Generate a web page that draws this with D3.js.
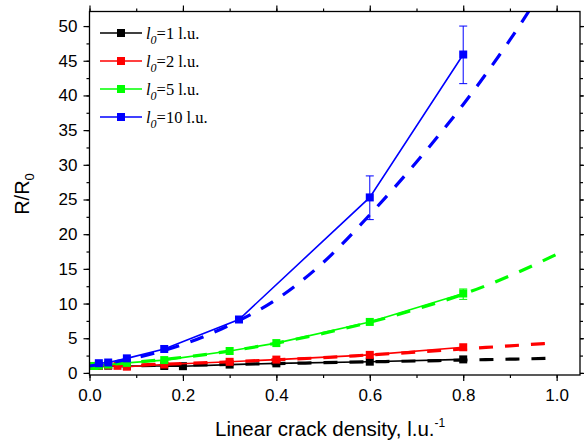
<!DOCTYPE html>
<html>
<head>
<meta charset="utf-8">
<script src="https://cdn.jsdelivr.net/npm/d3@7"></script>
<style>
  body { margin: 0; background: #fff; }
  svg { display: block; }
</style>
</head>
<body>
<div id="chart"></div>
<script>
// Measured points (crack density, R/R0)
const blackX = [0.01, 0.02, 0.04, 0.08, 0.16, 0.2, 0.3, 0.4, 0.6, 0.8];
const blackY = [1.0, 1.0, 1.05, 1.0, 1.0, 0.97, 1.2, 1.38, 1.62, 1.95];
const redX = [0.01, 0.02, 0.04, 0.06, 0.08, 0.16, 0.3, 0.4, 0.6, 0.8];
const redY = [1.0, 1.0, 1.1, 1.02, 0.9, 1.22, 1.6, 1.92, 2.6, 3.7];
const greenX = [0.01, 0.02, 0.04, 0.08, 0.16, 0.3, 0.4, 0.6, 0.8];
const greenY = [1.0, 1.05, 1.2, 1.45, 1.85, 3.16, 4.3, 7.35, 11.45];
const blueX = [0.02, 0.04, 0.08, 0.16, 0.32, 0.6, 0.8];
const blueY = [1.4, 1.5, 2.1, 3.45, 7.7, 25.3, 45.9];

// Error bars
const errBars = [
    { series: "green", x: 0.8, lo: 10.6, hi: 12.1 },
    { series: "blue", x: 0.6, lo: 22.1, hi: 28.4 },
    { series: "blue", x: 0.8, lo: 41.7, hi: 50.0 }
];

// Dashed model curves
const fitX = [0, 0.1, 0.2, 0.3, 0.4, 0.5, 0.6, 0.7, 0.8, 0.9, 1.0];
const fitBlack = [1.0, 1.05, 1.12, 1.22, 1.35, 1.47, 1.6, 1.72, 1.85, 1.98, 2.12];
const fitRed = [1.0, 1.15, 1.35, 1.6, 1.9, 2.2, 2.6, 3.0, 3.45, 3.9, 4.35];
const fitGreen = [1.0, 1.55, 2.25, 3.15, 4.3, 5.7, 7.3, 9.2, 11.35, 14.0, 17.1];
const fitBlue = [1.0, 2.2, 4.1, 6.9, 10.6, 15.9, 22.8, 30.4, 38.7, 48.0, 58.5];

const seriesNames = ["1", "2", "5", "10"];
const colors = ["#000000", "#ff0000", "#00ff00", "#0000ff"];

const xTicks = [0.0, 0.2, 0.4, 0.6, 0.8, 1.0];
const yTicks = [0, 5, 10, 15, 20, 25, 30, 35, 40, 45, 50];

const width = 584, height = 446;
const plotLeft = 89.5, plotRight = 580, plotTop = 11.5, plotBottom = 375;

const svg = d3.select("#chart").append("svg")
    .attr("width", width)
    .attr("height", height);

const x = d3.scaleLinear().domain([0, 1.05]).range([plotLeft, plotRight]);
const y = d3.scaleLinear().domain([-0.3, 52.1]).range([plotBottom, plotTop]);

svg.append("clipPath").attr("id", "plotClip")
    .append("rect")
    .attr("x", plotLeft).attr("y", plotTop)
    .attr("width", plotRight - plotLeft).attr("height", plotBottom - plotTop);

const series = [
    { xs: blackX, ys: blackY, fit: fitBlack },
    { xs: redX, ys: redY, fit: fitRed },
    { xs: greenX, ys: greenY, fit: fitGreen },
    { xs: blueX, ys: blueY, fit: fitBlue }
];
const colorByName = { black: colors[0], red: colors[1], green: colors[2], blue: colors[3] };

const plot = svg.append("g").attr("clip-path", "url(#plotClip)");

const solidLine = d3.line().x(d => x(d[0])).y(d => y(d[1]));
const fitLine = d3.line().curve(d3.curveMonotoneX).x(d => x(d[0])).y(d => y(d[1]));

series.forEach((s, i) => {
    const pts = s.xs.map((v, j) => [v, s.ys[j]]);

    plot.append("path")
        .datum(pts)
        .attr("fill", "none")
        .attr("stroke", colors[i])
        .attr("stroke-width", 1.6)
        .attr("d", solidLine);

    plot.append("path")
        .datum(fitX.map((v, j) => [v, s.fit[j]]))
        .attr("fill", "none")
        .attr("stroke", colors[i])
        .attr("stroke-width", 3.2)
        .attr("stroke-dasharray", "14,12")
        .attr("d", fitLine);

    plot.selectAll(null)
        .data(pts)
        .enter().append("rect")
        .attr("x", d => x(d[0]) - 4)
        .attr("y", d => y(d[1]) - 4)
        .attr("width", 8)
        .attr("height", 8)
        .attr("fill", colors[i]);
});

// error bars
errBars.forEach(e => {
    const c = colorByName[e.series];
    const g = plot.append("g").attr("stroke", c).attr("stroke-width", 1);
    g.append("line")
        .attr("x1", x(e.x)).attr("x2", x(e.x))
        .attr("y1", y(e.lo)).attr("y2", y(e.hi));
    [e.lo, e.hi].forEach(v => {
        g.append("line")
            .attr("x1", x(e.x) - 4).attr("x2", x(e.x) + 4)
            .attr("y1", y(v)).attr("y2", y(v));
    });
});

// frame
svg.append("rect")
    .attr("x", plotLeft).attr("y", plotTop)
    .attr("width", plotRight - plotLeft).attr("height", plotBottom - plotTop)
    .attr("fill", "none").attr("stroke", "#000").attr("stroke-width", 1.3);

const xMinor = d3.range(0, 1.05, 0.1);
const yMinor = d3.range(0, 52.1, 2.5);
const axisFont = "Liberation Sans, Arial, sans-serif";

// minor ticks on all sides
svg.append("g").attr("transform", `translate(0,${plotBottom})`)
    .call(d3.axisBottom(x).tickValues(xMinor).tickSize(3).tickFormat(""));
svg.append("g").attr("transform", `translate(0,${plotTop})`)
    .call(d3.axisTop(x).tickValues(xMinor).tickSize(3).tickFormat(""));
svg.append("g").attr("transform", `translate(${plotLeft},0)`)
    .call(d3.axisLeft(y).tickValues(yMinor).tickSize(3).tickFormat(""));
svg.append("g").attr("transform", `translate(${plotRight},0)`)
    .call(d3.axisRight(y).tickValues(yMinor).tickSize(3).tickFormat(""));

// major ticks with labels
svg.append("g").attr("transform", `translate(0,${plotBottom})`)
    .call(d3.axisBottom(x).tickValues(xTicks).tickSize(6).tickPadding(8).tickFormat(d3.format(".1f")))
    .call(g => g.selectAll("text").attr("font-size", 17).attr("font-family", axisFont).attr("fill", "#000"));
svg.append("g").attr("transform", `translate(0,${plotTop})`)
    .call(d3.axisTop(x).tickValues(xTicks).tickSize(6).tickFormat(""));
svg.append("g").attr("transform", `translate(${plotLeft},0)`)
    .call(d3.axisLeft(y).tickValues(yTicks).tickSize(6).tickPadding(6).tickFormat(d3.format("d")))
    .call(g => g.selectAll("text").attr("font-size", 17).attr("font-family", axisFont).attr("fill", "#000"));
svg.append("g").attr("transform", `translate(${plotRight},0)`)
    .call(d3.axisRight(y).tickValues(yTicks).tickSize(6).tickFormat(""));

svg.selectAll(".domain").attr("stroke", "none");
svg.selectAll(".tick line").attr("stroke", "#000").attr("stroke-width", 1.2);

// axis titles
const xTitle = svg.append("text")
    .attr("x", 215).attr("y", 436)
    .attr("font-family", axisFont).attr("font-size", 20.5);
xTitle.append("tspan").text("Linear crack density, l.u.");
xTitle.append("tspan").attr("dy", -9).attr("font-size", 12).text("-1");

const yTitle = svg.append("text")
    .attr("transform", "translate(29,194) rotate(-90)")
    .attr("text-anchor", "middle")
    .attr("font-family", axisFont).attr("font-size", 20);
yTitle.append("tspan").text("R/R");
yTitle.append("tspan").attr("dy", 5).attr("font-size", 13).text("0");

// legend
const legend = svg.append("g");
seriesNames.forEach((name, i) => {
    const ly = 33 + i * 28;
    legend.append("line")
        .attr("x1", 100).attr("x2", 142)
        .attr("y1", ly).attr("y2", ly)
        .attr("stroke", colors[i]).attr("stroke-width", 1.6);
    legend.append("rect")
        .attr("x", 117).attr("y", ly - 4)
        .attr("width", 8).attr("height", 8)
        .attr("fill", colors[i]);
    const t = legend.append("text")
        .attr("x", 146).attr("y", ly + 6)
        .attr("font-family", "Liberation Serif, Times New Roman, serif")
        .attr("font-size", 16.5);
    t.append("tspan").attr("font-style", "italic").text("l");
    t.append("tspan").attr("font-style", "italic").attr("font-size", 12).attr("dy", 5).text("0");
    t.append("tspan").attr("dy", -5).text("=" + name + " l.u.");
});
</script>
</body>
</html>
